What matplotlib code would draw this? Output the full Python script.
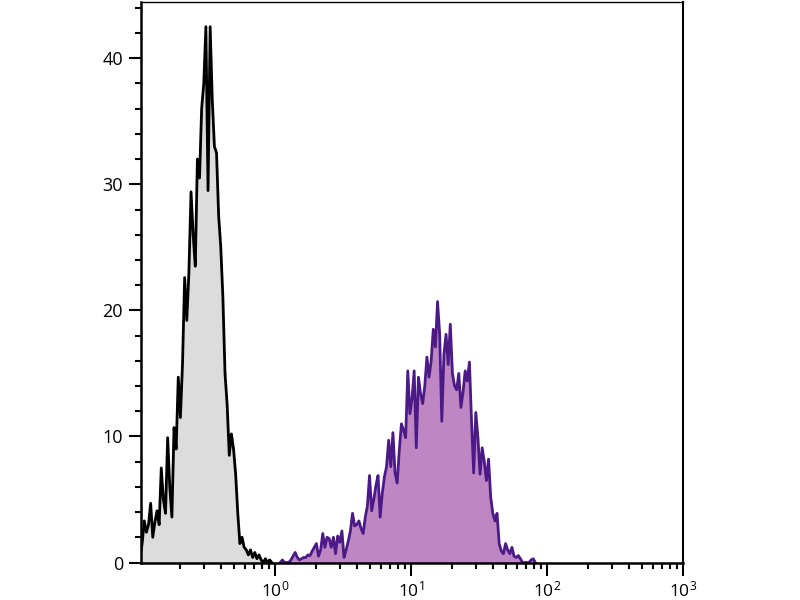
import numpy as np
import matplotlib
matplotlib.use('Agg')
import matplotlib.pyplot as plt
from matplotlib.ticker import LogLocator, MultipleLocator, NullFormatter

# 64 channels per decade, 0.1 .. 1000 (256 channels)
n_per_decade = 64
edges_log = np.arange(0, 257) / n_per_decade - 1.0

# control (grey) histogram, channels 0..62
ctrl_start = 0
ctrl_counts = [0.4, 1.5, 3.3, 2.4, 3.0, 4.7, 2.0, 3.2, 4.1, 3.0,
               7.5, 5.0, 3.9, 9.9, 6.0, 3.6, 10.7, 9.0, 14.7, 11.5,
               15.8, 22.6, 19.2, 23.0, 29.4, 26.0, 23.5, 32.0, 30.5, 36.0,
               38.0, 42.5, 29.5, 42.5, 36.7, 33.0, 32.5, 27.5, 25.0, 21.0,
               15.0, 12.5, 8.5, 10.2, 9.0, 7.0, 3.9, 1.5, 2.0, 1.2,
               1.0, 0.6, 1.0, 0.4, 0.8, 0.3, 0.6, 0.2, 0.0, 0.3,
               0.0, 0.2, 0.0]

# stained (purple) histogram, channels 66..186
stain_start = 66
stain_counts = [0.0, 0.2, 0.0, 0.0, 0.0, 0.2, 0.5, 0.8, 0.4, 0.2,
                0.3, 0.4, 0.4, 0.6, 0.55, 0.9, 1.2, 1.5, 0.5, 1.0,
                2.3, 1.2, 2.0, 1.9, 1.2, 2.0, 0.7, 2.1, 1.6, 2.5,
                0.4, 1.0, 1.7, 2.5, 3.9, 2.9, 3.0, 3.3, 2.7, 2.3,
                3.6, 4.5, 6.9, 4.1, 5.0, 6.1, 6.9, 3.6, 5.5, 6.8,
                7.6, 9.7, 7.6, 10.3, 7.1, 6.3, 8.9, 11.0, 10.5, 9.9,
                15.2, 11.8, 13.0, 15.2, 9.1, 14.7, 13.4, 12.6, 14.0, 16.3,
                14.7, 16.0, 18.5, 17.1, 20.7, 18.1, 11.2, 16.5, 18.1, 15.7,
                18.9, 15.0, 14.0, 13.7, 15.0, 12.3, 13.5, 15.2, 14.4, 15.9,
                11.2, 7.1, 11.9, 9.9, 7.0, 9.1, 8.0, 6.5, 8.2, 5.2,
                3.9, 3.3, 3.9, 1.5, 0.9, 0.7, 1.5, 1.0, 0.7, 1.2,
                0.5, 0.4, 0.55, 0.3, 0.0, 0.0, 0.0, 0.0, 0.2, 0.3,
                0.0]

xticks = [1, 10, 100, 1000]
xtick_labels = ['$10^{0}$', '$10^{1}$', '$10^{2}$', '$10^{3}$']
yticks = [0, 10, 20, 30, 40]


def channel_x(start, counts):
    idx = np.arange(start, start + len(counts))
    return 10 ** ((edges_log[idx] + edges_log[idx + 1]) / 2)


plt.rcParams['font.family'] = ['Open Sans', 'DejaVu Sans']
plt.rcParams['mathtext.fontset'] = 'custom'
plt.rcParams['mathtext.rm'] = 'Open Sans'
plt.rcParams['mathtext.it'] = 'Open Sans'

fig = plt.figure(figsize=(8, 6), dpi=100)
ax = fig.add_axes([0.17625, 0.0625, 0.6775, 0.935])

x1 = channel_x(ctrl_start, ctrl_counts)
ax.fill_between(x1, 0, ctrl_counts, color='#dcdcdc', lw=0)
ax.plot(x1, ctrl_counts, color='black', lw=2.0)

x2 = channel_x(stain_start, stain_counts)
ax.fill_between(x2, 0, stain_counts, color='#be87c3', lw=0)
ax.plot(x2, stain_counts, color='#4b1a87', lw=2.0)

ax.set_xscale('log')
ax.set_xlim(10 ** -0.985, 1000)
ax.set_ylim(0, 44.5)

ax.set_xticks(xticks)
ax.set_xticklabels(xtick_labels)
ax.xaxis.set_minor_locator(LogLocator(base=10, subs=np.arange(2, 10)))
ax.xaxis.set_minor_formatter(NullFormatter())
ax.set_yticks(yticks)
ax.yaxis.set_minor_locator(MultipleLocator(2))

ax.tick_params(axis='both', which='major', direction='out', length=9,
               width=1.5, labelsize=13, color='black')
ax.tick_params(axis='both', which='minor', direction='out', length=4.5,
               width=1.5, color='black')
ax.tick_params(axis='x', which='major', pad=4, labelsize=12.5)
ax.tick_params(axis='y', which='major', pad=4)

for side in ['left', 'bottom']:
    ax.spines[side].set_linewidth(1.8)
ax.spines['right'].set_linewidth(1.5)
ax.spines['top'].set_linewidth(1.0)

plt.savefig('out.png', dpi=100)
